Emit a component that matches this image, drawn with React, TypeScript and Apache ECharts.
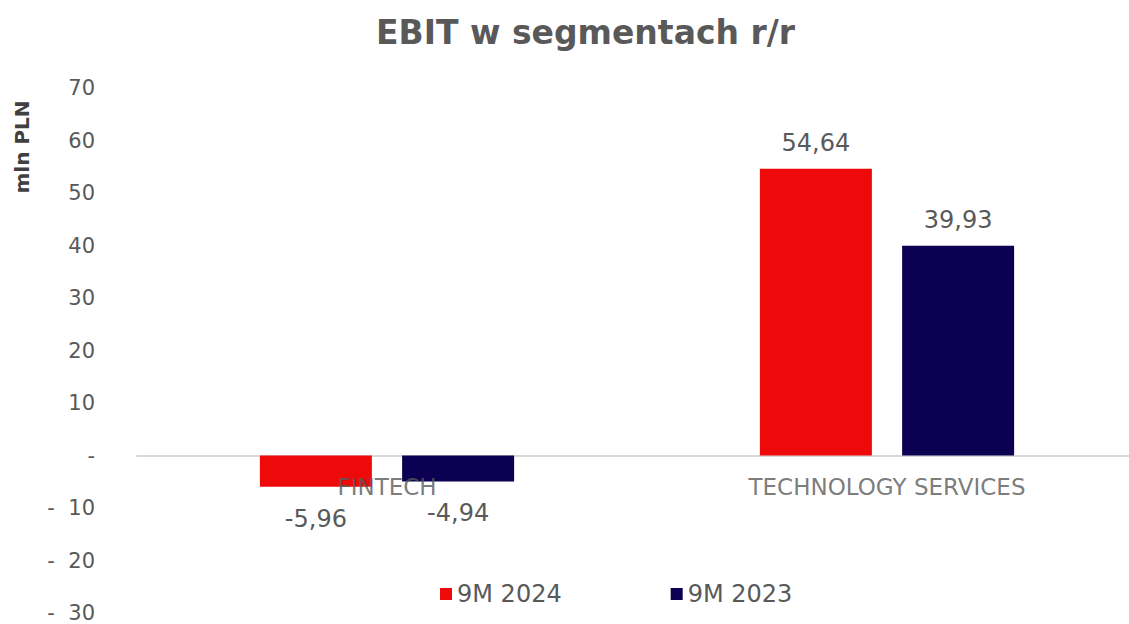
import React, { useEffect, useRef } from "react";
import * as echarts from "echarts";

const categories = ["FINTECH", "TECHNOLOGY SERVICES"];
const series2024 = [-5.96, 54.64];
const series2023 = [-4.94, 39.93];
const seriesNames = ["9M 2024", "9M 2023"];
const colors = ["#EE0A0A", "#0B0051"];
const yMin = -30;
const yMax = 70;
const yInterval = 10;
const yAxisTitle = "mln PLN";
const chartTitle = "EBIT w segmentach r/r";

const FONT = "DejaVu Sans";
const fmtNum = (v: number) => v.toFixed(2).replace(".", ",");
const fmtAxis = (v: number) => (v === 0 ? "-" : v < 0 ? "-  " + Math.abs(v) : String(v));

const toData = (arr: number[]) =>
  arr.map((v) => ({
    value: v,
    label: {
      position: v < 0 ? "bottom" : "top",
      distance: v < 0 ? 20 : 14,
    },
  }));

export default function App() {
  const ref = useRef<HTMLDivElement>(null);
  useEffect(() => {
    const chart = echarts.init(ref.current!, undefined, { renderer: "svg" });
    const labelStyle = {
      show: true,
      color: "#595959",
      fontSize: 24,
      fontFamily: FONT,
      formatter: (p: any) => fmtNum(p.value),
    };
    chart.setOption({
      animation: false,
      backgroundColor: "#ffffff",
      title: {
        text: chartTitle,
        left: 371,
        top: 11,
        textStyle: { color: "#595959", fontSize: 33, fontWeight: "bold", fontFamily: FONT },
      },
      legend: {
        data: seriesNames,
        top: 577,
        left: 435,
        itemGap: 109,
        itemWidth: 12,
        itemHeight: 12,
        icon: "rect",
        textStyle: { color: "#595959", fontSize: 24, fontFamily: FONT },
      },
      graphic: [
        {
          type: "text",
          x: 22,
          y: 147,
          rotation: Math.PI / 2,
          style: {
            text: yAxisTitle,
            fill: "#404040",
            fontSize: 20,
            fontWeight: "bold",
            fontFamily: FONT,
            align: "center",
            verticalAlign: "middle",
          },
        },
      ],
      grid: { left: 137, right: -8, top: 88, bottom: 11, outerBoundsMode: "none", containLabel: false },
      xAxis: {
        type: "category",
        data: categories,
        axisLine: { onZero: true, lineStyle: { color: "#D9D9D9", width: 2 } },
        axisTick: { show: false },
        axisLabel: { show: false },
      },
      yAxis: {
        type: "value",
        min: yMin,
        max: yMax,
        interval: yInterval,
        axisLine: { show: false },
        axisTick: { show: false },
        splitLine: { show: false },
        axisLabel: {
          color: "#595959",
          fontSize: 21,
          fontFamily: FONT,
          margin: 42,
          formatter: fmtAxis,
        },
      },
      series: [
        {
          name: seriesNames[0],
          type: "bar",
          data: toData(series2024),
          barWidth: 112,
          barGap: "27%",
          itemStyle: { color: colors[0] },
          label: labelStyle,
        },
        {
          name: seriesNames[1],
          type: "bar",
          data: toData(series2023),
          barWidth: 112,
          barGap: "27%",
          itemStyle: { color: colors[1] },
          label: labelStyle,
        },
        {
          name: "categoryLabels",
          type: "scatter",
          data: categories.map(() => 0),
          symbolSize: 0,
          silent: true,
          z: 10,
          label: {
            show: true,
            position: "bottom",
            distance: 20,
            color: "#595959",
            fontSize: 23,
            fontFamily: FONT,
            formatter: (p: any) => categories[p.dataIndex],
          },
        },
      ],
    });
    return () => chart.dispose();
  }, []);
  return (
    <div
      ref={ref}
      style={{ position: "fixed", left: 0, top: 0, width: 1129, height: 624 }}
    />
  );
}
